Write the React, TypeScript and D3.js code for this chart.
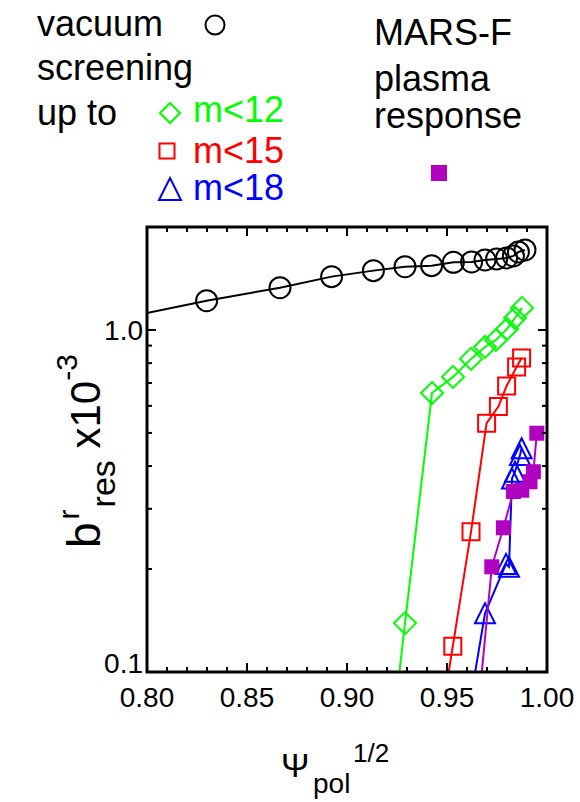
import React, { useEffect, useRef } from "react";
import * as d3 from "d3";

// Vacuum field (no screening)
const vacuumPsi = [0.79, 0.8298, 0.8665, 0.8923, 0.9132, 0.929, 0.9423, 0.9532, 0.9623, 0.969, 0.9748, 0.9798, 0.9832, 0.9857, 0.989];
const vacuumB = [1.09, 1.218, 1.329, 1.432, 1.491, 1.531, 1.542, 1.577, 1.581, 1.602, 1.613, 1.624, 1.646, 1.691, 1.714];

// Screening up to m<12
const m12Psi = [0.924, 0.929, 0.9425, 0.953, 0.962, 0.969, 0.9745, 0.98, 0.984, 0.9875];
const m12B = [0.077, 0.139, 0.654, 0.729, 0.823, 0.892, 0.935, 1.007, 1.084, 1.16];

// Screening up to m<15
const m15Psi = [0.95, 0.9529, 0.962, 0.9698, 0.9757, 0.9798, 0.9848, 0.9873];
const m15B = [0.093, 0.119, 0.257, 0.534, 0.597, 0.686, 0.779, 0.828];

// Screening up to m<18
const m18Psi = [0.962, 0.969, 0.9795, 0.981, 0.9825, 0.984, 0.9865, 0.9873];
const m18B = [0.0845, 0.1485, 0.207, 0.203, 0.368, 0.385, 0.431, 0.451];

// MARS-F plasma response
const marsPsi = [0.966, 0.9724, 0.9782, 0.9832, 0.9874, 0.9915, 0.9932, 0.9949];
const marsB = [0.082, 0.203, 0.264, 0.337, 0.34, 0.36, 0.385, 0.499];

const xTickValues = [0.8, 0.85, 0.9, 0.95, 1.0];
const yTickValues = [0.1, 1.0];

const FONT = "'Liberation Sans', Arial, Helvetica, sans-serif";
const GREEN = "#00ff00";
const RED = "#ff0000";
const BLUE = "#0000ff";
const PURPLE = "#b000c0";

type Marker = "circle" | "diamond" | "square" | "triangle" | "filledSquare";

function markerPath(kind: Marker, size: number): string {
  const h = size / 2;
  switch (kind) {
    case "diamond":
      return `M0,${-h}L${h},0L0,${h}L${-h},0Z`;
    case "square":
    case "filledSquare":
      return `M${-h},${-h}H${h}V${h}H${-h}Z`;
    case "triangle":
      return `M0,${-h}L${h},${h}L${-h},${h}Z`;
    default:
      return d3.arc()({ innerRadius: 0, outerRadius: h, startAngle: 0, endAngle: 2 * Math.PI }) as string;
  }
}

export default function App() {
  const ref = useRef<SVGSVGElement>(null);

  useEffect(() => {
    const svg = d3.select(ref.current);
    svg.selectAll("*").remove();

    const left = 147, right = 547, top = 227, bottom = 672;
    const x = d3.scaleLinear().domain([0.8, 1.0]).range([left, right]);
    const y = d3.scaleLog().domain([0.1, 2.0]).range([bottom, top]);

    svg.append("rect").attr("width", 580).attr("height", 802).attr("fill", "#fff");

    svg.append("defs").append("clipPath").attr("id", "plot-clip")
      .append("rect").attr("x", left).attr("y", top).attr("width", right - left).attr("height", bottom - top);

    const plot = svg.append("g").attr("clip-path", "url(#plot-clip)");

    const series = [
      { psi: vacuumPsi, b: vacuumB, color: "#000", marker: "circle" as Marker, size: 21 },
      { psi: m12Psi, b: m12B, color: GREEN, marker: "diamond" as Marker, size: 22 },
      { psi: m15Psi, b: m15B, color: RED, marker: "square" as Marker, size: 17 },
      { psi: m18Psi, b: m18B, color: BLUE, marker: "triangle" as Marker, size: 20 },
      { psi: marsPsi, b: marsB, color: PURPLE, marker: "filledSquare" as Marker, size: 15 },
    ];

    const line = d3.line<[number, number]>().x((d) => x(d[0])).y((d) => y(d[1]));

    series.forEach((s) => {
      const pts: [number, number][] = s.psi.map((p, i) => [p, s.b[i]]);
      plot.append("path").attr("d", line(pts)).attr("fill", "none")
        .attr("stroke", s.color).attr("stroke-width", 2);
      plot.selectAll(null).data(pts).enter().append("path")
        .attr("d", markerPath(s.marker, s.size))
        .attr("transform", (d) => `translate(${x(d[0])},${y(d[1])})`)
        .attr("fill", s.marker === "filledSquare" ? s.color : "none")
        .attr("stroke", s.marker === "filledSquare" ? "none" : s.color)
        .attr("stroke-width", 2);
    });

    // Frame and ticks
    const axes = svg.append("g").attr("stroke", "#000");
    axes.append("rect").attr("x", left).attr("y", top).attr("width", right - left)
      .attr("height", bottom - top).attr("fill", "none").attr("stroke-width", 3);

    const xMinor = d3.range(80, 101).map((v) => v / 100);
    xMinor.forEach((v) => {
      const major = Math.round(v * 100) % 5 === 0;
      const len = major ? 9 : 5;
      axes.append("line").attr("x1", x(v)).attr("x2", x(v)).attr("y1", bottom).attr("y2", bottom - len).attr("stroke-width", 2);
      axes.append("line").attr("x1", x(v)).attr("x2", x(v)).attr("y1", top).attr("y2", top + len).attr("stroke-width", 2);
    });

    const yTicks = [0.1, 0.2, 0.3, 0.4, 0.5, 0.6, 0.7, 0.8, 0.9, 1.0, 2.0];
    yTicks.forEach((v) => {
      const major = v === 0.1 || v === 1.0;
      const len = major ? 9 : 5;
      axes.append("line").attr("x1", left).attr("x2", left + len).attr("y1", y(v)).attr("y2", y(v)).attr("stroke-width", 2);
      axes.append("line").attr("x1", right).attr("x2", right - len).attr("y1", y(v)).attr("y2", y(v)).attr("stroke-width", 2);
    });

    // Tick labels
    const fmtX = d3.format(".2f");
    const fmtY = d3.format(".1f");
    svg.append("g").selectAll("text").data(xTickValues).enter().append("text")
      .attr("x", (d) => x(d)).attr("y", 707).attr("text-anchor", "middle")
      .attr("font-family", FONT).attr("font-size", 28).text((d) => fmtX(d));
    svg.append("g").selectAll("text").data(yTickValues).enter().append("text")
      .attr("x", left - 4).attr("y", (d) => Math.min(y(d) + 10, bottom + 1)).attr("text-anchor", "end")
      .attr("font-family", FONT).attr("font-size", 28).text((d) => fmtY(d));

    // X axis title
    const xt = svg.append("g").attr("font-family", FONT);
    xt.append("text").attr("x", 281).attr("y", 777).attr("font-size", 34).text("\u03A8");
    xt.append("text").attr("x", 313).attr("y", 793).attr("font-size", 28).text("pol");
    xt.append("text").attr("x", 353).attr("y", 762).attr("font-size", 26).text("1/2");

    // Y axis title, rotated; the super- and subscripts follow one another
    const yt = svg.append("text").attr("font-family", FONT).attr("font-size", 46)
      .attr("transform", "translate(100,450) rotate(-90)")
      .attr("x", -98).attr("y", 0).style("white-space", "pre");
    yt.append("tspan").text("b");
    yt.append("tspan").attr("font-size", 30).attr("dx", 3).attr("dy", -21).text("r");
    yt.append("tspan").attr("font-size", 34).attr("dx", 2).attr("dy", 36).text("res");
    yt.append("tspan").attr("font-size", 42).attr("dy", -15).text(" x10");
    yt.append("tspan").attr("font-size", 30).attr("dy", -23).text("-3");

    // Legend
    const lg = svg.append("g").attr("font-family", FONT).attr("font-size", 36);
    lg.append("text").attr("x", 37).attr("y", 36).text("vacuum");
    lg.append("text").attr("x", 37).attr("y", 80).text("screening");
    lg.append("text").attr("x", 37).attr("y", 125).text("up to");
    lg.append("text").attr("x", 193).attr("y", 122).attr("fill", GREEN).text("m<12");
    lg.append("text").attr("x", 193).attr("y", 163).attr("fill", RED).text("m<15");
    lg.append("text").attr("x", 193).attr("y", 200).attr("fill", BLUE).text("m<18");
    lg.append("text").attr("x", 374).attr("y", 45).text("MARS-F");
    lg.append("text").attr("x", 374).attr("y", 91).text("plasma");
    lg.append("text").attr("x", 374).attr("y", 128).text("response");

    const legendMarkers = [
      { cx: 215, cy: 25, marker: "circle" as Marker, color: "#000", size: 19 },
      { cx: 170, cy: 113, marker: "diamond" as Marker, color: GREEN, size: 20 },
      { cx: 167, cy: 151, marker: "square" as Marker, color: RED, size: 15 },
      { cx: 170, cy: 189, marker: "triangle" as Marker, color: BLUE, size: 22 },
      { cx: 439, cy: 173, marker: "filledSquare" as Marker, color: PURPLE, size: 16 },
    ];
    lg.selectAll("path").data(legendMarkers).enter().append("path")
      .attr("d", (d) => markerPath(d.marker, d.size))
      .attr("transform", (d) => `translate(${d.cx},${d.cy})`)
      .attr("fill", (d) => (d.marker === "filledSquare" ? d.color : "none"))
      .attr("stroke", (d) => (d.marker === "filledSquare" ? "none" : d.color))
      .attr("stroke-width", 2);
  }, []);

  return (
    <svg
      ref={ref}
      width={580}
      height={802}
      style={{ position: "absolute", left: 0, top: 0, display: "block" }}
    />
  );
}
